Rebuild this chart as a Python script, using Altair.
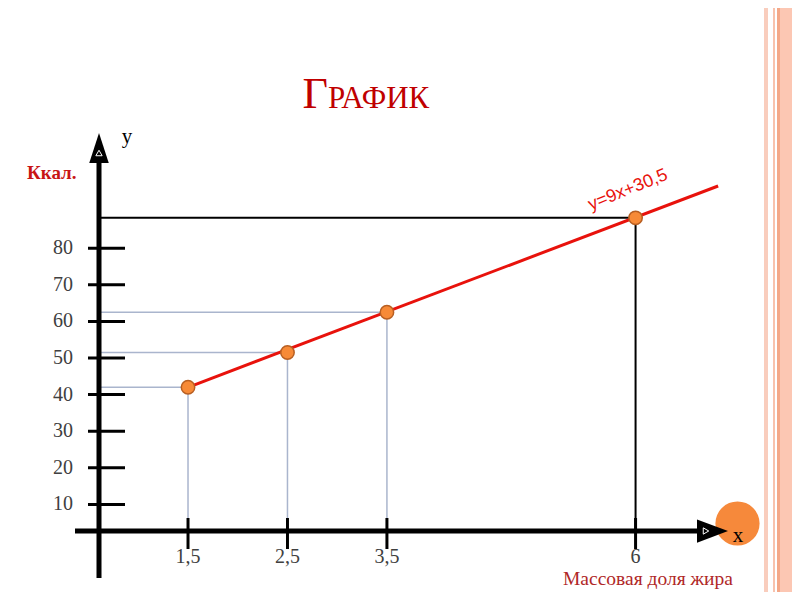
import altair as alt
import pandas as pd

# ---- data ----
fat_x = [1.5, 2.5, 3.5, 6]            # массовая доля жира
kcal_y = [42.0, 51.5, 62.5, 88.3]     # ккал
line_x = [1.5, 6.83]                  # red line y=9x+30,5 (ends)
line_y = [42.0, 97.0]
y_ticks = [10, 20, 30, 40, 50, 60, 70, 80]
x_ticks = [1.5, 2.5, 3.5, 6]
X_DOMAIN = [0.605, 7.05]
Y_DOMAIN = [2.73, 112.3]

W, H = 641, 401
SERIF = "Liberation Serif"

xs = alt.Scale(domain=X_DOMAIN, nice=False, zero=False)
ys = alt.Scale(domain=Y_DOMAIN, nice=False, zero=False)

one = pd.DataFrame({"a": [0]})
pts_df = pd.DataFrame({"x": fat_x, "y": kcal_y})
yt_df = pd.DataFrame({"v": y_ticks})
xt_df = pd.DataFrame({"v": x_ticks})

X = lambda f: alt.X(f, scale=xs, axis=None)
Y = lambda f: alt.Y(f, scale=ys, axis=None)

layers = []

# slide border stripes (decoration)
for x1, x2, col in [(665, 669, "#f9cdbd"), (674, 676, "#f8c2ad"), (678, 681, "#f4a888"), (681, 720, "#fcc7b3")]:
    layers.append(alt.Chart(one).mark_rect(color=col).encode(
        x=alt.value(x1), x2=alt.value(x2), y=alt.value(-130), y2=alt.value(480)))

guide_df = pts_df.assign(x0=X_DOMAIN[0], y0=Y_DOMAIN[0])
for cond, col, sw in [("datum.x < 6", "#aab5cd", 1.5), ("datum.x >= 6", "#000000", 2)]:
    base = alt.Chart(guide_df).transform_filter(cond)
    layers.append(base.mark_rule(color=col, strokeWidth=sw).encode(
        x=X("x0:Q"), x2="x:Q", y=Y("y:Q")))
    layers.append(base.mark_rule(color=col, strokeWidth=sw).encode(
        x=X("x:Q"), y=Y("y0:Q"), y2="y:Q"))

# tick marks and tick labels (through the scales)
layers.append(alt.Chart(yt_df).mark_rule(color="black", strokeWidth=3).encode(
    y=Y("v:Q"), x=alt.value(-11), x2=alt.value(26)))
layers.append(alt.Chart(yt_df).mark_text(font=SERIF, fontSize=20, color="#404040",
                                         align="right", baseline="middle").encode(
    y=Y("v:Q"), x=alt.value(-26), text="v:Q"))
layers.append(alt.Chart(xt_df).mark_rule(color="black", strokeWidth=3).encode(
    x=X("v:Q"), y=alt.value(388), y2=alt.value(419)))
layers.append(alt.Chart(xt_df).transform_calculate(
    lab="replace(format(datum.v, '~g'), '.', ',')").mark_text(
    font=SERIF, fontSize=20, color="#404040", align="center", baseline="alphabetic").encode(
    x=X("v:Q"), y=alt.value(433), text="lab:N"))

# axis lines
layers.append(alt.Chart(one).mark_rule(color="black", strokeWidth=5).encode(
    x=alt.value(0), y=alt.value(20), y2=alt.value(448)))
layers.append(alt.Chart(one).mark_rule(color="black", strokeWidth=5).encode(
    x=alt.value(-24), x2=alt.value(600), y=alt.value(401)))

# orange circle near x arrow
layers.append(alt.Chart(one).mark_circle(size=1950, color="#f6893b", opacity=1).encode(
    x=alt.value(638.5), y=alt.value(393.5)))

# arrow heads
layers.append(alt.Chart(one).mark_point(shape="M0,-1L0.65,1L-0.65,1Z", size=900, filled=True,
                                        color="black", opacity=1).encode(x=alt.value(0), y=alt.value(18)))
layers.append(alt.Chart(one).mark_point(shape="M1,0L-1,-0.75L-1,0.75Z", size=961, filled=True,
                                        color="black", opacity=1).encode(x=alt.value(613.5), y=alt.value(401)))
layers.append(alt.Chart(one).mark_point(shape="triangle-up", size=40, filled=False, color="white",
                                        strokeWidth=1, opacity=1).encode(x=alt.value(0), y=alt.value(23)))
layers.append(alt.Chart(one).mark_point(shape="triangle-right", size=40, filled=False, color="white",
                                        strokeWidth=1, opacity=1).encode(x=alt.value(607), y=alt.value(401)))

# red line
line_df = pd.DataFrame({"x": line_x, "y": line_y})
layers.append(alt.Chart(line_df).mark_line(color="#e8120c", strokeWidth=3).encode(
    x=X("x:Q"), y=Y("y:Q")))

# points
layers.append(alt.Chart(pts_df).mark_circle(size=180, color="#f78a37", stroke="#b85f22",
                                            strokeWidth=1.5, opacity=1).encode(
    x=X("x:Q"), y=Y("y:Q")))

# texts
def txt(t, x, y, **kw):
    return alt.Chart(one).mark_text(text=t, **kw).encode(x=alt.value(x), y=alt.value(y))

layers.append(txt("y=9x+30,5", 529, 60, font="Liberation Sans", fontSize=18, color="#e8120c",
                  angle=338, align="center", baseline="middle"))
layers.append(txt("y", 28, 13, font=SERIF, fontSize=21, color="black", align="center", baseline="alphabetic"))
layers.append(txt("x", 639, 412, font=SERIF, fontSize=21, color="black", align="center", baseline="alphabetic"))
layers.append(txt("Ккал.", -72, 49, font=SERIF, fontSize=19, fontWeight="bold", color="#c81414",
                  align="left", baseline="alphabetic"))
layers.append(txt("Массовая доля жира", 464, 455, font=SERIF, fontSize=19.5, color="#b02828",
                  align="left", baseline="alphabetic"))
layers.append(txt("Г", 229, -22, font=SERIF, fontSize=44, color="#c00000", align="right", baseline="alphabetic"))
layers.append(txt("РАФИК", 229, -22, font=SERIF, fontSize=31, color="#c00000", align="left", baseline="alphabetic"))

chart = alt.layer(*layers).properties(
    width=W, height=H,
    autosize=alt.AutoSizeParams(type="none"),
    padding={"left": 91, "top": 122, "right": 52, "bottom": 61},
).configure_view(strokeWidth=0)

chart.save("out.html", embed_options={"renderer": "svg", "actions": False})
